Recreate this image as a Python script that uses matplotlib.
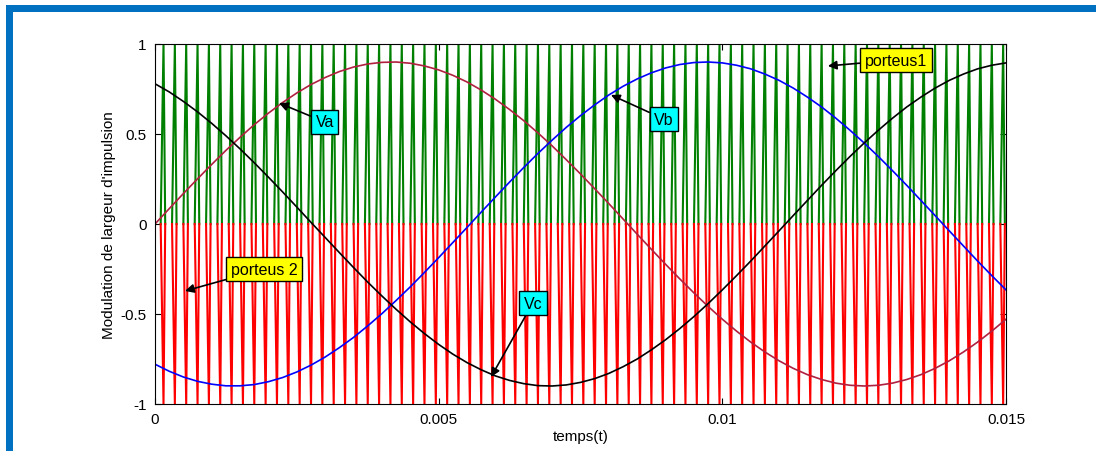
import numpy as np
import matplotlib
matplotlib.use("Agg")
import matplotlib.pyplot as plt
from matplotlib.patches import Rectangle

plt.rcParams['font.family'] = ['Liberation Sans', 'DejaVu Sans']

# ---- data ----
t = [0.00000, 0.00025, 0.00050, 0.00075, 0.00100, 0.00125, 0.00150, 0.00175, 0.00200, 0.00225,
     0.00250, 0.00275, 0.00300, 0.00325, 0.00350, 0.00375, 0.00400, 0.00425, 0.00450, 0.00475,
     0.00500, 0.00525, 0.00550, 0.00575, 0.00600, 0.00625, 0.00650, 0.00675, 0.00700, 0.00725,
     0.00750, 0.00775, 0.00800, 0.00825, 0.00850, 0.00875, 0.00900, 0.00925, 0.00950, 0.00975,
     0.01000, 0.01025, 0.01050, 0.01075, 0.01100, 0.01125, 0.01150, 0.01175, 0.01200, 0.01225,
     0.01250, 0.01275, 0.01300, 0.01325, 0.01350, 0.01375, 0.01400, 0.01425, 0.01450, 0.01475,
     0.01500]
va = [0.000, 0.085, 0.169, 0.251, 0.331, 0.409, 0.482, 0.552, 0.616, 0.675,
      0.728, 0.775, 0.814, 0.847, 0.872, 0.889, 0.898, 0.900, 0.893, 0.878,
      0.856, 0.826, 0.789, 0.744, 0.693, 0.636, 0.574, 0.506, 0.434, 0.357,
      0.278, 0.196, 0.113, 0.028, -0.057, -0.141, -0.224, -0.305, -0.383, -0.458,
      -0.529, -0.595, -0.656, -0.711, -0.760, -0.802, -0.837, -0.864, -0.884, -0.896,
      -0.900, -0.896, -0.884, -0.864, -0.837, -0.802, -0.760, -0.711, -0.656, -0.595,
      -0.529]
vb = [-0.779, -0.818, -0.850, -0.874, -0.890, -0.899, -0.899, -0.892, -0.876, -0.853,
      -0.822, -0.784, -0.739, -0.687, -0.630, -0.566, -0.498, -0.425, -0.349, -0.269,
      -0.187, -0.103, -0.019, 0.066, 0.150, 0.233, 0.314, 0.392, 0.466, 0.537,
      0.602, 0.662, 0.717, 0.765, 0.806, 0.840, 0.867, 0.886, 0.897, 0.900,
      0.895, 0.882, 0.862, 0.833, 0.798, 0.755, 0.705, 0.650, 0.588, 0.521,
      0.450, 0.375, 0.296, 0.215, 0.131, 0.047, -0.038, -0.122, -0.206, -0.287,
      -0.366]
vc = [0.779, 0.734, 0.681, 0.623, 0.559, 0.490, 0.417, 0.340, 0.260, 0.178,
      0.094, 0.009, -0.075, -0.159, -0.242, -0.323, -0.400, -0.474, -0.544, -0.609,
      -0.669, -0.723, -0.770, -0.810, -0.844, -0.869, -0.887, -0.898, -0.900, -0.894,
      -0.880, -0.859, -0.830, -0.793, -0.750, -0.699, -0.643, -0.581, -0.514, -0.442,
      -0.366, -0.287, -0.206, -0.122, -0.038, 0.047, 0.131, 0.215, 0.296, 0.375,
      0.450, 0.521, 0.588, 0.650, 0.705, 0.755, 0.798, 0.833, 0.862, 0.882,
      0.895]

carrier_period = 0.0002      # s (about 75 teeth over the window)
carrier_first_peak = 0.00015 # s
carrier1_level = 1.0
carrier2_level = -1.0

xticks = [0, 0.005, 0.01, 0.015]
xtick_labels = ['0', '0.005', '0.01', '0.015']
yticks = [-1, -0.5, 0, 0.5, 1]
ytick_labels = ['-1', '-0.5', '0', '0.5', '1']

# ---- figure ----
W, H = 1102, 452
fig = plt.figure(figsize=(W / 100, H / 100), dpi=100)
fig.patch.set_facecolor('white')

# blue frame (left and top bars)
blue = '#0070C0'
fig.patches.append(Rectangle((6 / W, 0), 7 / W, 1 - 6 / H, transform=fig.transFigure,
                             facecolor=blue, edgecolor='none'))
fig.patches.append(Rectangle((6 / W, 1 - 13 / H), 1090 / W, 7 / H, transform=fig.transFigure,
                             facecolor=blue, edgecolor='none'))

ax = fig.add_axes([155 / W, 1 - 405 / H, 851 / W, 360 / H])

# carriers built from the carrier parameters
peaks = np.arange(carrier_first_peak, 0.015 + 1e-9, carrier_period)
rise = 0.00005
fall = 0.00003
cx, cy1, cy2 = [], [], []
for p in peaks:
    cx += [p - rise, p, p + fall, np.nan]
    cy1 += [0, carrier1_level, 0, np.nan]
    cy2 += [0, carrier2_level, 0, np.nan]
ax.plot(cx, cy1, color='#008000', lw=1.5, clip_on=True)
ax.plot(cx, cy2, color='#FF0000', lw=1.5, clip_on=True)

ax.plot(t, va, color='#B0203F', lw=1.2)
ax.plot(t, vb, color='#0000FF', lw=1.2)
ax.plot(t, vc, color='#000000', lw=1.2)

ax.set_xlim(0, 0.015)
ax.set_ylim(-1, 1)
ax.set_xticks(xticks)
ax.set_xticklabels(xtick_labels)
ax.set_yticks(yticks)
ax.set_yticklabels(ytick_labels)
ax.tick_params(direction='in', top=True, right=True, labelsize=11, length=4, width=0.8, pad=6)
for s in ax.spines.values():
    s.set_linewidth(0.8)
ax.set_xlabel('temps(t)', fontsize=11, labelpad=2)
ax.set_ylabel("Modulation de largeur d'impulsion", fontsize=11, labelpad=3)

def note(text, xy, xytext, fc):
    ax.annotate(text, xy=xy, xytext=xytext, fontsize=11.5, ha='center', va='center',
                bbox=dict(boxstyle='square,pad=0.28', fc=fc, ec='black', lw=1.0),
                arrowprops=dict(arrowstyle='-|>', color='black', lw=1.2,
                                mutation_scale=13, shrinkA=0, shrinkB=0))

note('porteus1', (0.01186, 0.878), (0.01306, 0.911), '#FFFF00')
note('Va', (0.002186, 0.672), (0.00299, 0.567), '#00FFFF')
note('Vb', (0.008037, 0.717), (0.00897, 0.583), '#00FFFF')
note('porteus 2', (0.000529, -0.372), (0.00192, -0.25), '#FFFF00')
note('Vc', (0.005923, -0.85), (0.00666, -0.439), '#00FFFF')

fig.savefig('out.png', dpi=100)
